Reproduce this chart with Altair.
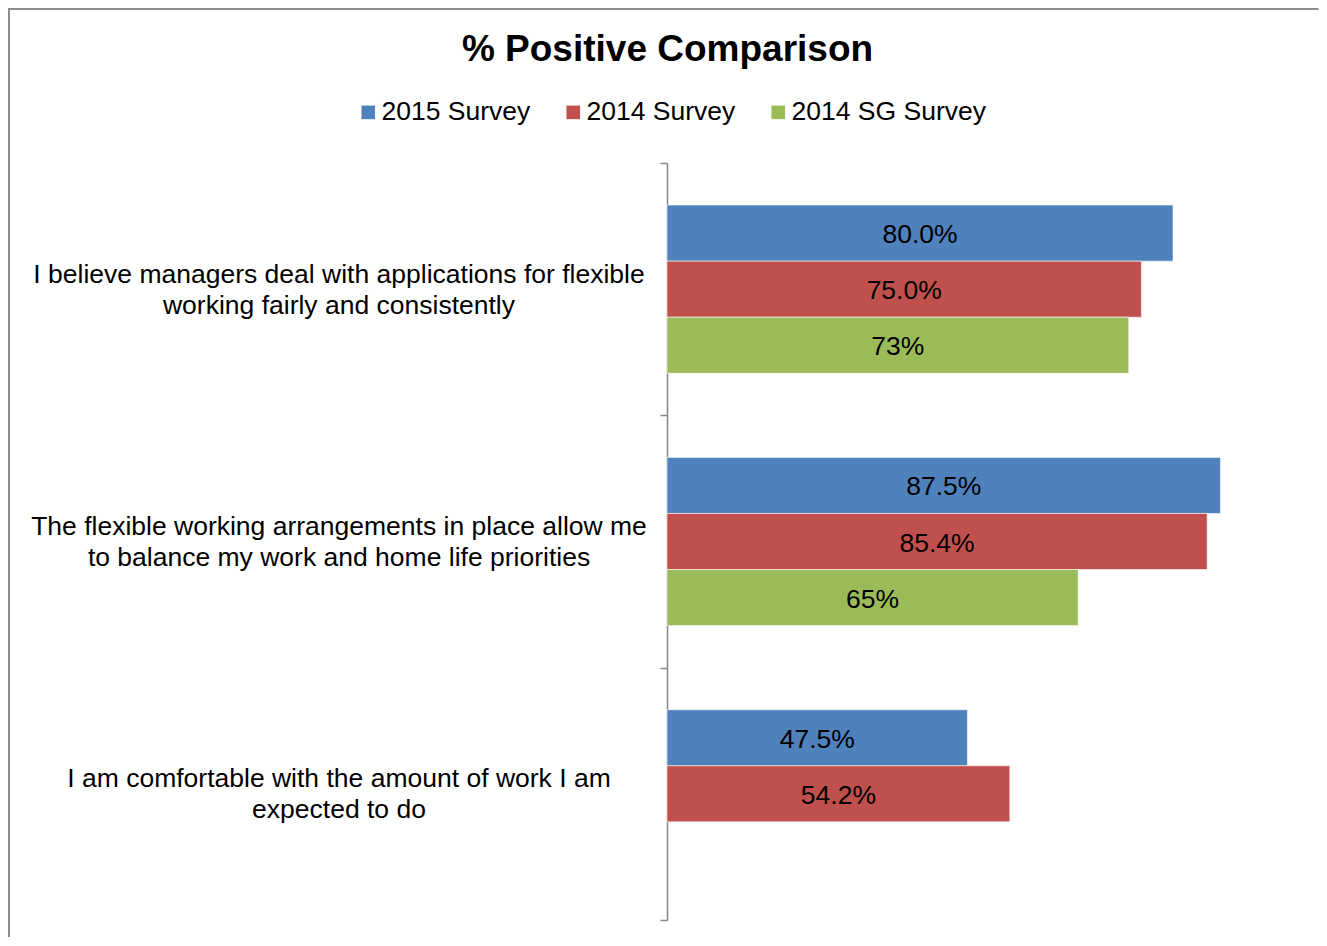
import altair as alt
import pandas as pd

# ---- data ----
categories = [
    "I believe managers deal with applications for flexible\nworking fairly and consistently",
    "The flexible working arrangements in place allow me\nto balance my work and home life priorities",
    "I am comfortable with the amount of work I am\nexpected to do",
]
series = ["2015 Survey", "2014 Survey", "2014 SG Survey"]
colors = ["#4F81BD", "#C0504D", "#9BBB59"]

values_2015 = [80.0, 87.5, 47.5]
values_2014 = [75.0, 85.4, 54.2]
values_2014_sg = [73, 65, None]

labels_2015 = ["80.0%", "87.5%", "47.5%"]
labels_2014 = ["75.0%", "85.4%", "54.2%"]
labels_2014_sg = ["73%", "65%", None]

rows = []
for s, vals, labs in zip(series,
                         [values_2015, values_2014, values_2014_sg],
                         [labels_2015, labels_2014, labels_2014_sg]):
    for c, v, l in zip(categories, vals, labs):
        if v is not None:
            rows.append({"question": c, "series": s, "value": v, "label": l})
df = pd.DataFrame(rows)

FONT = "Liberation Sans"
PLOT_W = 632.5
PLOT_H = 757
PAD = {"left": 659, "top": 155, "right": 19, "bottom": 17}

x_scale = alt.Scale(domain=[0, 100])
y_enc = alt.Y(
    "question:N",
    sort=categories,
    scale=alt.Scale(paddingInner=0, paddingOuter=0),
    axis=alt.Axis(
        title=None,
        labelExpr="split(datum.label, '\\n')",
        labelAlign="center",
        labelBaseline="middle",
        labelPadding=321.5,
        labelOffset=-15,
        labelLimit=0,
        labelFont=FONT,
        labelFontSize=26.5,
        labelColor="black",
        labelLineHeight=31,
        labelOverlap=False,
        domainColor="#868686",
        domainWidth=1.5,
        tickColor="#868686",
        tickWidth=1.5,
        tickSize=7,
        tickBand="extent",
        grid=False,
    ),
)
yoff_enc = alt.YOffset("series:N", sort=series,
                       scale=alt.Scale(paddingOuter=0.75, paddingInner=0))

base = alt.Chart(df)

bars = base.mark_bar(stroke="#ffffff", strokeWidth=0.8, strokeOpacity=0.7).encode(
    x=alt.X("value:Q", scale=x_scale, axis=None),
    y=y_enc,
    yOffset=yoff_enc,
    color=alt.Color(
        "series:N",
        sort=series,
        scale=alt.Scale(domain=series, range=colors),
        legend=alt.Legend(
            title=None,
            orient="none",
            legendX=-312,
            legendY=-64,
            direction="horizontal",
            symbolType="square",
            symbolSize=185,
            symbolStrokeWidth=0,
            labelFont=FONT,
            labelFontSize=26.5,
            labelColor="black",
            labelOffset=0,
            labelLimit=0,
            columnPadding=29,
        ),
    ),
)

text = base.transform_calculate(mid="datum.value / 2").mark_text(
    font=FONT, fontSize=26.5, color="black", align="center", baseline="middle", dy=2
).encode(
    x=alt.X("mid:Q", scale=x_scale, axis=None),
    y=y_enc,
    yOffset=yoff_enc,
    text="label:N",
)

# chart-area frame (top and left edges, as in the reference)
frame_df = pd.DataFrame({"k": [0]})
top_rule = alt.Chart(frame_df).mark_rule(color="#8c8c8c", strokeWidth=2).encode(
    x=alt.value(-PAD["left"]), x2=alt.value(PLOT_W + PAD["right"]),
    y=alt.value(-PAD["top"] + 1)
)
left_rule = alt.Chart(frame_df).mark_rule(color="#8c8c8c", strokeWidth=2).encode(
    x=alt.value(-PAD["left"] + 1), y=alt.value(-PAD["top"]),
    y2=alt.value(PLOT_H + PAD["bottom"])
)

chart = alt.layer(bars, text, top_rule, left_rule).properties(
    width=PLOT_W,
    height=PLOT_H,
    padding=PAD,
    autosize=alt.AutoSizeParams(type="none"),
    title=alt.Title(
        "% Positive Comparison",
        font=FONT,
        fontSize=37,
        fontWeight="bold",
        color="black",
        anchor="middle",
        baseline="alphabetic",
        offset=0,
        dx=-315.75,
        dy=91,
    ),
).configure_view(stroke=None)

chart.save("out.html", embed_options={"renderer": "svg", "actions": False})
